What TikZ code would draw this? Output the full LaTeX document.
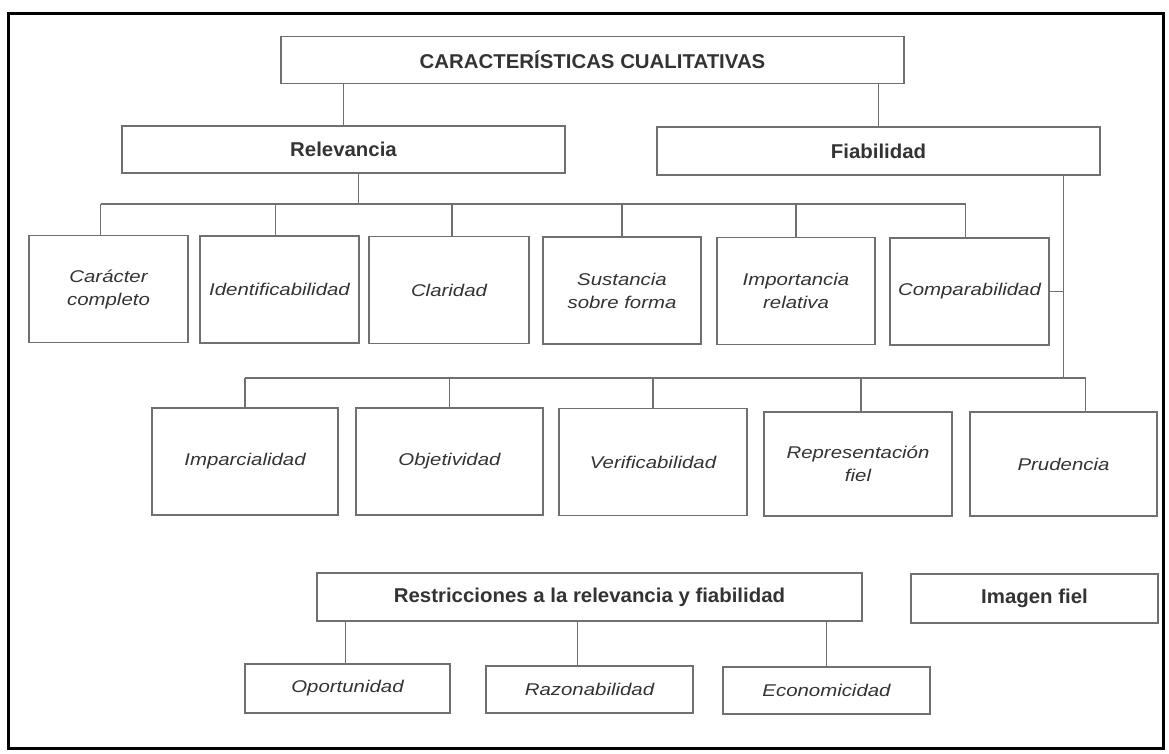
\documentclass[tikz,border=0pt]{standalone}
\usepackage{fontspec}
\newfontfamily\itf[FakeStretch=1.2]{Liberation Sans}
\newfontfamily\bff[FakeStretch=1.02]{Liberation Sans}
\definecolor{linegray}{HTML}{707070}
\definecolor{textgray}{HTML}{333333}
\begin{document}
\begin{tikzpicture}[x=1pt,y=-1pt,
  box/.style={draw=linegray, line width=1.2pt, rectangle, inner sep=0pt, text=textgray, align=center},
  hbox/.style={box, font=\bff\bfseries\fontsize{20}{23}\selectfont},
  ibox/.style={box, font=\itf\itshape\fontsize{17}{23}\selectfont},
  rowone/.style={ibox, minimum width=159pt, minimum height=107pt},
  rowtwo/.style={ibox, minimum width=187pt, minimum height=107pt},
  conn/.style={draw=linegray, line width=1.2pt}]
\useasboundingbox (0,0) rectangle (1169,753);
\draw[line width=3pt] (8,13) rectangle (1163,748);

% top levels
\node[hbox, minimum width=623pt, minimum height=47pt] (title) at (592.5,60) {CARACTERÍSTICAS CUALITATIVAS};
\node[hbox, minimum width=443pt, minimum height=47pt] (relev) at (343.5,149.5) {Relevancia};
\node[hbox, minimum width=443pt, minimum height=48pt] (fiab) at (878.5,151) {Fiabilidad};

% row one
\node[rowone] (car) at (108.5,289) {Carácter\\completo};
\node[rowone] (ident) at (279.5,289.5) {Identificabilidad};
\node[rowone, minimum width=160pt] (clar) at (449,290) {Claridad};
\node[rowone, minimum width=158pt] (sust) at (622,290.5) {Sustancia\\sobre forma};
\node[rowone, minimum width=158pt] (impo) at (796,291) {Importancia\\relativa};
\node[rowone] (comp) at (969.5,291.5) {Comparabilidad};

% row two
\node[rowtwo, minimum width=186pt] (impa) at (245,461.5) {Imparcialidad};
\node[rowtwo] (obje) at (449.5,461.5) {Objetividad};
\node[rowtwo, minimum width=188pt] (veri) at (653,462) {Verificabilidad};
\node[rowtwo, minimum width=188pt, minimum height=104pt] (repr) at (858,464) {Representación\\fiel};
\node[rowtwo, minimum height=104pt] (prud) at (1063.5,464) {Prudencia};

% bottom
\node[hbox, minimum width=545pt, minimum height=48pt] (restr) at (589.5,597) {Restricciones a la relevancia y fiabilidad};
\node[hbox, minimum width=247pt, minimum height=49pt] (imag) at (1034.5,598.5) {Imagen fiel};
\node[ibox, minimum width=205pt, minimum height=49pt] (opor) at (347.5,688.5) {Oportunidad};
\node[ibox, minimum width=207pt, minimum height=47pt] (razo) at (589.5,689.5) {Razonabilidad};
\node[ibox, minimum width=207pt, minimum height=47pt] (econ) at (826.5,690.5) {Economicidad};

% connectors: title
\draw[conn] (title.south -| relev.north) -- (relev.north);
\draw[conn] (title.south -| fiab.north) -- (fiab.north);

% relevancia bus
\coordinate (busA) at (0,204);
\draw[conn] ([xshift=15pt]relev.south) -- ([xshift=15pt]relev.south |- busA);
\draw[conn] ([xshift=-8pt]car.north |- busA) -- ([xshift=-4pt]comp.north |- busA);
\draw[conn] ([xshift=-8pt]car.north) -- ([xshift=-8pt]car.north |- busA);
\draw[conn] ([xshift=-4pt]ident.north) -- ([xshift=-4pt]ident.north |- busA);
\draw[conn] ([xshift=3pt]clar.north) -- ([xshift=3pt]clar.north |- busA);
\draw[conn] (sust.north) -- (sust.north |- busA);
\draw[conn] (impo.north) -- (impo.north |- busA);
\draw[conn] ([xshift=-4pt]comp.north) -- ([xshift=-4pt]comp.north |- busA);

% fiabilidad line and bus
\coordinate (busB) at (0,378);
\draw[conn] (fiab.south -| prud.north) -- (prud.north |- busB);
\draw[conn] (comp.east) -- (comp.east -| prud.north);
\draw[conn] (impa.north |- busB) -- ([xshift=22pt]prud.north |- busB);
\draw[conn] (impa.north) -- (impa.north |- busB);
\draw[conn] (obje.north) -- (obje.north |- busB);
\draw[conn] (veri.north) -- (veri.north |- busB);
\draw[conn] ([xshift=3pt]repr.north) -- ([xshift=3pt]repr.north |- busB);
\draw[conn] ([xshift=22pt]prud.north) -- ([xshift=22pt]prud.north |- busB);

% restricciones
\draw[conn] ([xshift=-2pt]opor.north) -- ([xshift=-2pt]opor.north |- restr.south);
\draw[conn] ([xshift=-12pt]razo.north) -- ([xshift=-12pt]razo.north |- restr.south);
\draw[conn] (econ.north) -- (econ.north |- restr.south);
\end{tikzpicture}
\end{document}
